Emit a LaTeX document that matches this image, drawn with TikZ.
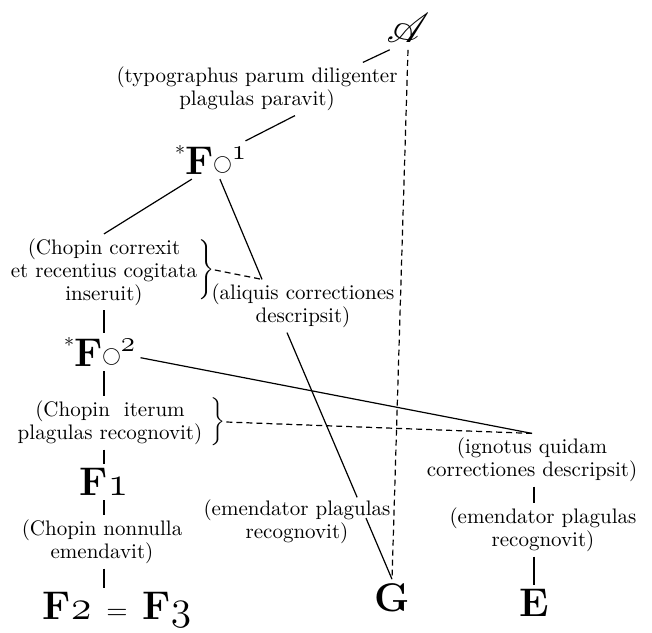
\documentclass[tikz,border=0pt]{standalone}
\usepackage{amsmath,amssymb}
\usepackage{mathrsfs}
\usetikzlibrary{calc}

% small ring and siglum of the lost proofs
\newcommand{\ring}{\raisebox{2.4pt}{\fontsize{9.5}{9.5}\selectfont$\bigcirc$}}
\newcommand{\osf}[1]{\legacyoldstylenums{#1}}
\newcommand{\Fo}[1]{\raisebox{7pt}{\fontsize{10}{10}\selectfont\mdseries *}F\ring\textsuperscript{\osf{#1}}}

\begin{document}
\begin{tikzpicture}[
      x=0.5pt, y=-0.5pt, line width=0.6pt,
      lab/.style={font=\fontsize{10.5}{11.5}\selectfont, align=center, inner sep=2pt},
      wit/.style={font=\fontsize{20}{22}\selectfont\bfseries, inner sep=2pt},
      brc/.style={inner sep=0pt},
      hyp/.style={dash pattern=on 3pt off 2pt}
    ]
    \useasboundingbox (0,0) rectangle (652,632);
    \node (A)    at (408,28)  {\fontsize{20}{20}\selectfont$\mathscr{A}$};
    \node[lab] (typ)  at (257,89)  {(typographus parum diligenter\\plagulas paravit)};
    \node[wit] (fo1)  at (211,160) {\Fo{1}};
    \node[lab] (corr) at (104,272) {(Chopin correxit\\et recentius cogitata\\inseruit)};
    \node[brc] (br1)  at (205,270) {$\left.\vcenter{\hbox{\rule{0pt}{31pt}}}\right\}$};
    \node[lab] (aliq) at (303,306) {(aliquis correctiones\\descripsit)};
    \node[wit] (fo2)  at (100,352) {\Fo{2}};
    \node[lab] (iter) at (110,423) {(Chopin\ \ iterum\\plagulas recognovit)};
    \node[brc] (br2)  at (217,422) {$\left.\vcenter{\hbox{\rule{0pt}{24pt}}}\right\}$};
    \node[wit] (f1)   at (104,482) {F\osf{1}};
    \node[lab] (nonn) at (102,542) {(Chopin nonnulla\\emendavit)};
    \node[wit] (f23)  at (117,610) {F\osf{2} {\mdseries\fontsize{14}{14}\selectfont =} F\osf{3}};
    \node[lab] (emG)  at (297,522) {(emendator plagulas\\recognovit)};
    \node[wit] (G)    at (392,598) {G};
    \node[lab] (ign)  at (532,460) {(ignotus quidam\\correctiones descripsit)};
    \node[lab] (emE)  at (543,530) {(emendator plagulas\\recognovit)};
    \node[wit] (E)    at (534,603) {E};
    % gap of the line under the label
    \path (aliq.239) -- (G.north) coordinate[pos=0.668] (g1) coordinate[pos=0.752] (g2);
    \draw (A.230) -- ($(typ.north east)!0.27!(typ.north)$);
    \draw (typ.-35) -- (fo1.29);
    \draw (fo1.225) -- (corr.north);
    \draw (fo1.-65) -- (aliq.147);
    \draw[hyp] (br1.east) -- (aliq.147);
    \draw (f1 |- corr.south) -- (f1 |- fo2.north);
    \draw (fo2.-8) -- (ign.north);
    \draw[hyp] (br2.east) -- (ign.north);
    \draw (f1 |- fo2.south) -- (f1 |- iter.north);
    \draw (f1 |- iter.south) -- (f1.north);
    \draw (f1.south) -- (f1 |- nonn.north);
    \draw (f1 |- nonn.south) -- (f1 |- f23.north);
    \draw (aliq.239) -- (g1);
    \draw (g2) -- (G.north);
    \draw[hyp] (A.south) -- (G.north);
    \draw (E |- ign.south) -- (E |- emE.north);
    \draw (E |- emE.south) -- (E.north);
  \end{tikzpicture}
\end{document}
